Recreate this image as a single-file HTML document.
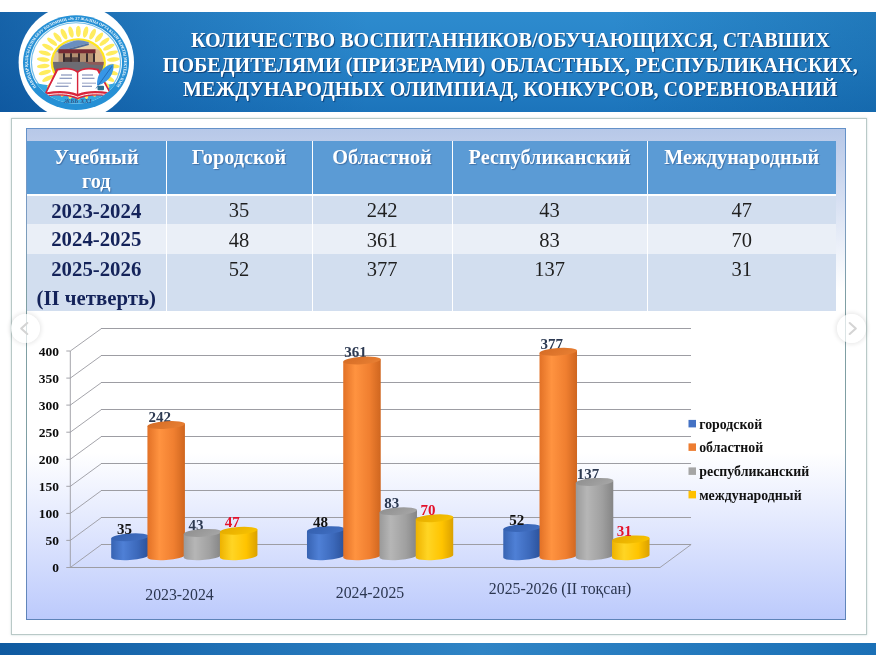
<!DOCTYPE html>
<html lang="ru">
<head>
<meta charset="utf-8">
<title>Количество воспитанников/обучающихся</title>
<style>
html,body{margin:0;padding:0;}
body{width:876px;height:655px;position:relative;overflow:hidden;background:#fff;font-family:"Liberation Serif","DejaVu Serif",serif;}
.abs{position:absolute;}
#banner{left:0;top:12px;width:876px;height:99.5px;
  background:
   linear-gradient(to right, rgba(4,66,138,.55) 0%, rgba(4,66,138,.25) 18%, rgba(4,66,138,0) 42%, rgba(6,74,140,0) 70%, rgba(6,80,142,.30) 100%),
   linear-gradient(to bottom, #2d8bce 0%, #2783c8 50%, #1c74bb 100%);}
#title{left:144.3px;top:28.3px;width:732px;text-align:center;color:#fff;font-weight:bold;font-size:20.09px;line-height:24.2px;
  text-shadow:1px 1px 1px rgba(0,20,60,.55);white-space:nowrap;}
#frame{left:11px;top:118px;width:853.5px;height:515px;border:1px solid #b9c9c7;background:#fff;box-shadow:0 0 2px rgba(150,180,180,.5);}
#panel{left:26px;top:128px;width:820px;height:492px;background:linear-gradient(to bottom,#6391c9 0%,#7b9cc2 18%,#7f9fa3 35%,#7f9fa3 62%,#6d8fc0 85%,#5d83b8 100%);}
#panel i{position:absolute;left:1px;top:1px;right:1px;bottom:1px;
  background:linear-gradient(to bottom,#b7c8e8 0%,#d3ddf1 13%,#ffffff 33%,#ffffff 66%,#bccafc 100%);}
#footer{left:0;top:643.3px;width:876px;height:12px;background:linear-gradient(to right,#0f5aa0 0%,#1e6fb4 25%,#2f84c5 55%,#2479bd 80%,#1b70b6 100%);}
table{position:absolute;left:27px;top:141px;border-collapse:collapse;table-layout:fixed;width:809px;}
td,th{padding:0;text-align:center;vertical-align:top;font-size:20.5px;border-left:1.6px solid #fff;overflow:visible;}
td:first-child,th:first-child{border-left:none;}
th{background:#5b9bd5;color:#fff;font-weight:bold;font-size:20.3px;height:53.3px;border-bottom:2.4px solid #fff;text-shadow:1px 1px 1px rgba(30,60,110,.45);}
th div{height:53.3px;line-height:24px;padding-top:4.1px;box-sizing:border-box;}
tr.a td{background:#d2deef;}
tr.b td{background:#eaeff7;}
td{color:#1f1f1f;}
td div{overflow:visible;white-space:nowrap;}
tr.r1 td,tr.r1 td div{height:27.6px;line-height:27.6px;}
tr.r2 td,tr.r2 td div{height:30.1px;line-height:30.2px;}
tr.r3 td,tr.r3 td div{height:57px;line-height:29.6px;}
td.y{font-weight:bold;color:#14235a;font-size:20.8px;}
td div{position:relative;top:1.2px;}
td.y div{top:0.5px;}
tr.r3 td.y div{top:-0.1px;}
tr.r3 td div{top:0.6px;}
.soft{filter:blur(0.55px);}
.nav{width:29px;height:29px;border-radius:50%;background:rgba(255,255,255,.72);box-shadow:0 0 4px 1.5px rgba(0,0,0,.09);}
</style>
</head>
<body>
<div id="banner" class="abs"></div>
<div id="title" class="abs soft">КОЛИЧЕСТВО ВОСПИТАННИКОВ/ОБУЧАЮЩИХСЯ, СТАВШИХ<br>ПОБЕДИТЕЛЯМИ (ПРИЗЕРАМИ) ОБЛАСТНЫХ, РЕСПУБЛИКАНСКИХ,<br>МЕЖДУНАРОДНЫХ ОЛИМПИАД, КОНКУРСОВ, СОРЕВНОВАНИЙ</div>
<!--LOGO_START-->
<svg class="abs soft" style="left:0;top:0" width="160" height="125" viewBox="0 0 160 125" font-family="'Liberation Serif','DejaVu Serif',serif">
<defs>
<clipPath id="lgPhoto"><circle cx="2.3" cy="0.2" r="25.3"/></clipPath>
<clipPath id="lgInner"><circle cx="0" cy="0" r="46"/></clipPath>
<path id="lgRing" d="M-38.9,28.3 A48.1,48.1 0 1 1 38.9,28.3"/>
<linearGradient id="lgSky" x1="0" y1="0" x2="0" y2="1"><stop offset="0" stop-color="#7fa9d8"/><stop offset="1" stop-color="#dfe9f2"/></linearGradient>
</defs>
<circle cx="76.3" cy="62.3" r="57.7" fill="#ffffff"/>
<g transform="translate(76 62.6) scale(1 0.892)">
<circle r="53" fill="#2690d5"/>
<circle r="46" fill="#ffffff"/>
<circle r="44.6" fill="none" stroke="#6fbdea" stroke-width="1.2"/>
<text font-size="4.4" font-weight="bold" fill="#ffffff"><textPath href="#lgRing" startOffset="1" textLength="208" lengthAdjust="spacingAndGlyphs">ПАВЛОДАР ҚАЛАСЫ БІЛІМ БЕРУ БӨЛІМІНІҢ «№ 27 ЖАЛПЫ ОРТА БІЛІМ БЕРЕТІН МЕКТЕБІ» КММ</textPath></text>
<g clip-path="url(#lgInner)">
<path d="M-46,21 C-30,29 30,29 46,21 L46,50 L-46,50Z" fill="#36a7e1"/>
<g transform="translate(2.3 0.2)" fill="#ffec5e"><ellipse cx="0" cy="-35.2" rx="2.4" ry="6.4" transform="rotate(0.0)"/><ellipse cx="0" cy="-35.2" rx="2.4" ry="6.4" transform="rotate(12.0)"/><ellipse cx="0" cy="-35.2" rx="2.4" ry="6.4" transform="rotate(24.0)"/><ellipse cx="0" cy="-35.2" rx="2.4" ry="6.4" transform="rotate(36.0)"/><ellipse cx="0" cy="-35.2" rx="2.4" ry="6.4" transform="rotate(48.0)"/><ellipse cx="0" cy="-35.2" rx="2.4" ry="6.4" transform="rotate(60.0)"/><ellipse cx="0" cy="-35.2" rx="2.4" ry="6.4" transform="rotate(72.0)"/><ellipse cx="0" cy="-35.2" rx="2.4" ry="6.4" transform="rotate(84.0)"/><ellipse cx="0" cy="-35.2" rx="2.4" ry="6.4" transform="rotate(96.0)"/><ellipse cx="0" cy="-35.2" rx="2.4" ry="6.4" transform="rotate(108.0)"/><ellipse cx="0" cy="-35.2" rx="2.4" ry="6.4" transform="rotate(120.0)"/><ellipse cx="0" cy="-35.2" rx="2.4" ry="6.4" transform="rotate(132.0)"/><ellipse cx="0" cy="-35.2" rx="2.4" ry="6.4" transform="rotate(144.0)"/><ellipse cx="0" cy="-35.2" rx="2.4" ry="6.4" transform="rotate(156.0)"/><ellipse cx="0" cy="-35.2" rx="2.4" ry="6.4" transform="rotate(168.0)"/><ellipse cx="0" cy="-35.2" rx="2.4" ry="6.4" transform="rotate(180.0)"/><ellipse cx="0" cy="-35.2" rx="2.4" ry="6.4" transform="rotate(192.0)"/><ellipse cx="0" cy="-35.2" rx="2.4" ry="6.4" transform="rotate(204.0)"/><ellipse cx="0" cy="-35.2" rx="2.4" ry="6.4" transform="rotate(216.0)"/><ellipse cx="0" cy="-35.2" rx="2.4" ry="6.4" transform="rotate(228.0)"/><ellipse cx="0" cy="-35.2" rx="2.4" ry="6.4" transform="rotate(240.0)"/><ellipse cx="0" cy="-35.2" rx="2.4" ry="6.4" transform="rotate(252.0)"/><ellipse cx="0" cy="-35.2" rx="2.4" ry="6.4" transform="rotate(264.0)"/><ellipse cx="0" cy="-35.2" rx="2.4" ry="6.4" transform="rotate(276.0)"/><ellipse cx="0" cy="-35.2" rx="2.4" ry="6.4" transform="rotate(288.0)"/><ellipse cx="0" cy="-35.2" rx="2.4" ry="6.4" transform="rotate(300.0)"/><ellipse cx="0" cy="-35.2" rx="2.4" ry="6.4" transform="rotate(312.0)"/><ellipse cx="0" cy="-35.2" rx="2.4" ry="6.4" transform="rotate(324.0)"/><ellipse cx="0" cy="-35.2" rx="2.4" ry="6.4" transform="rotate(336.0)"/><ellipse cx="0" cy="-35.2" rx="2.4" ry="6.4" transform="rotate(348.0)"/><circle r="27.6" fill="#ffe61f"/></g>
<g clip-path="url(#lgPhoto)">
<rect x="-24" y="-26" width="52" height="30" fill="#ead4a8"/>
<path d="M-24,-8 L-24,-26 L16,-26 L12.5,-21.6 L-21,-11.5Z" fill="#6a8ebf"/>
<path d="M-24,-26 L2,-26 L-24,-15Z" fill="#c9dcef"/>
<path d="M-21,-11.5 L12.5,-21.6 L13,-19.8 L-20,-9.6Z" fill="#4f6f9c"/>
<rect x="-18" y="-10.8" width="38" height="10.4" fill="#b28e70"/>
<rect x="19" y="-15" width="10" height="15" fill="#dfb990"/>
<rect x="-24" y="-12" width="6.5" height="12" fill="#d9c3a2"/>
<path d="M-17.5,-14.9 L19.5,-14.9 L19.5,-10.6 L-17.5,-10.6Z" fill="#782a33"/>
<path d="M-13,-10.6 h2 v10 h-2z M-6,-10.6 h2 v10 h-2z M2,-10.6 h2 v10 h-2z M10,-10.6 h2 v10 h-2z M17,-10.6 h2 v10 h-2z" fill="#3b2b2e"/>
<rect x="-11" y="-6" width="5" height="5.5" fill="#4d3a3a"/><rect x="-4" y="-6" width="6" height="5.5" fill="#5b4642"/>
<rect x="-26" y="-0.8" width="56" height="12" fill="#6d6c73"/>
<path d="M8,-0.8 L28,-0.8 L28,3 L14,2.2Z" fill="#8e5a58"/>
</g>
<path d="M-33,38.5 L-19.5,7 C-10,4.5 -3,5.5 1.6,9.5 C6,5.5 13,4.5 22.5,7 L37,38.5 C22,35.5 10,36.5 1.6,41 C-7,36.5 -19,35.5 -33,38.5Z" fill="#d8243a"/>
<path d="M-29,33.2 L-18,8.8 C-9,6.8 -3,7.8 0.9,11.3 L0.9,35 C-7,31.4 -18.5,31.2 -29,33.2Z" fill="#ffffff"/>
<path d="M33,33.2 L21,8.8 C12,6.8 6,7.8 2.3,11.3 L2.3,35 C10,31.4 21.5,31.2 33,33.2Z" fill="#ffffff"/>
<path d="M-30.8,36.6 C-19,33.9 -7,34.4 1.6,38.7 C10,34.4 22,33.9 34.8,36.6" fill="none" stroke="#ffffff" stroke-width="1"/>
<g stroke="#4a5f9a" stroke-width="1.1" fill="none" opacity="0.8"><path d="M-15,14 h11 M-16.5,17.5 h12.5 M-19,23 h14 M-20.5,26.5 h13"/><path d="M6,14 h11 M6,17.5 h12.5 M6,23 h14 M6,26.5 h10"/></g>
<path d="M37.5,1.5 C27,3 20.5,13 21,25.5 C30,24 38.5,14 37.5,1.5Z" fill="#3796e6"/>
<path d="M36,4 L20,29" stroke="#1d5fa8" stroke-width="0.8" fill="none"/>
<rect x="21.5" y="26" width="6.5" height="5" rx="1" fill="#2a6f8f"/>
</g>
<text x="1.8" y="45.6" text-anchor="middle" font-size="6.6" font-style="italic" font-weight="bold" fill="#355a8e">ЖББ XXI</text>
</g>
</svg>
<!--LOGO_END-->
<div id="frame" class="abs"></div>
<div id="panel" class="abs"><i></i></div>
<table class="soft">
<colgroup><col style="width:139px"><col style="width:146px"><col style="width:140px"><col style="width:195px"><col style="width:189px"></colgroup>
<tr><th><div>Учебный<br>год</div></th><th><div>Городской</div></th><th><div>Областной</div></th><th><div>Республиканский</div></th><th><div>Международный</div></th></tr>
<tr class="a r1"><td class="y"><div>2023-2024</div></td><td><div>35</div></td><td><div>242</div></td><td><div>43</div></td><td><div>47</div></td></tr>
<tr class="b r2"><td class="y"><div>2024-2025</div></td><td><div>48</div></td><td><div>361</div></td><td><div>83</div></td><td><div>70</div></td></tr>
<tr class="a r3"><td class="y"><div>2025-2026<br>(II четверть)</div></td><td><div>52</div></td><td><div>377</div></td><td><div>137</div></td><td><div>31</div></td></tr>
</table>
<!--CHART_START-->
<svg class="abs soft" style="left:0;top:0" width="876" height="655" viewBox="0 0 876 655" font-family="'Liberation Serif','DejaVu Serif',serif">
<defs>
<linearGradient id="gbb" x1="0" y1="0" x2="1" y2="0"><stop offset="0" stop-color="#3763b2"/><stop offset="0.32" stop-color="#4f80d6"/><stop offset="0.7" stop-color="#3c69bb"/><stop offset="1" stop-color="#2b519a"/></linearGradient>
<linearGradient id="gtb" x1="0" y1="0" x2="1" y2="0.4"><stop offset="0" stop-color="#335fae"/><stop offset="1" stop-color="#3f6dc0"/></linearGradient>
<linearGradient id="gbo" x1="0" y1="0" x2="1" y2="0"><stop offset="0" stop-color="#e27126"/><stop offset="0.32" stop-color="#ff9340"/><stop offset="0.7" stop-color="#f07f30"/><stop offset="1" stop-color="#cf661f"/></linearGradient>
<linearGradient id="gto" x1="0" y1="0" x2="1" y2="0.4"><stop offset="0" stop-color="#d46b24"/><stop offset="1" stop-color="#e67d31"/></linearGradient>
<linearGradient id="gbg" x1="0" y1="0" x2="1" y2="0"><stop offset="0" stop-color="#9a9a9a"/><stop offset="0.3" stop-color="#b6b6b6"/><stop offset="0.7" stop-color="#a0a0a0"/><stop offset="1" stop-color="#858585"/></linearGradient>
<linearGradient id="gtg" x1="0" y1="0" x2="1" y2="0.4"><stop offset="0" stop-color="#8e8e8e"/><stop offset="1" stop-color="#a4a4a4"/></linearGradient>
<linearGradient id="gby" x1="0" y1="0" x2="1" y2="0"><stop offset="0" stop-color="#eeb200"/><stop offset="0.32" stop-color="#ffd524"/><stop offset="0.7" stop-color="#ffc400"/><stop offset="1" stop-color="#dba100"/></linearGradient>
<linearGradient id="gty" x1="0" y1="0" x2="1" y2="0.4"><stop offset="0" stop-color="#e2a900"/><stop offset="1" stop-color="#f6c000"/></linearGradient>
</defs>
<path d="M101.2 544.5H691.2M101.2 517.5H691.2M101.2 490.5H691.2M101.2 463.5H691.2M101.2 436.5H691.2M101.2 409.5H691.2M101.2 382.5H691.2M101.2 355.5H691.2M101.2 328.5H691.2" fill="none" stroke="#9d9da3" stroke-width="1" shape-rendering="crispEdges"/>
<path d="M70.3 567.5L101.5 544.5M70.3 540.4L101.5 517.5M70.3 513.4L101.5 490.5M70.3 486.3L101.5 463.5M70.3 459.3L101.5 436.5M70.3 432.2L101.5 409.5M70.3 405.1L101.5 382.5M70.3 378.1L101.5 355.5M70.3 351.0L101.5 328.5" fill="none" stroke="#9a9aa0" stroke-width="0.9"/>
<path d="M70.3 351.0V567.5M660.0 567.5L691.2 544.5M66.3 567.5h4M66.3 540.4h4M66.3 513.4h4M66.3 486.3h4M66.3 459.3h4M66.3 432.2h4M66.3 405.1h4M66.3 378.1h4M66.3 351.0h4" fill="none" stroke="#9a9aa0" stroke-width="0.9"/>
<path d="M70.3 567.5H660.0" fill="none" stroke="#9d9da3" stroke-width="1" shape-rendering="crispEdges"/>
<text x="59" y="572.1" text-anchor="end" font-size="13.5" font-weight="bold" fill="#0c0c0c">0</text>
<text x="59" y="545.0" text-anchor="end" font-size="13.5" font-weight="bold" fill="#0c0c0c">50</text>
<text x="59" y="518.0" text-anchor="end" font-size="13.5" font-weight="bold" fill="#0c0c0c">100</text>
<text x="59" y="490.9" text-anchor="end" font-size="13.5" font-weight="bold" fill="#0c0c0c">150</text>
<text x="59" y="463.9" text-anchor="end" font-size="13.5" font-weight="bold" fill="#0c0c0c">200</text>
<text x="59" y="436.8" text-anchor="end" font-size="13.5" font-weight="bold" fill="#0c0c0c">250</text>
<text x="59" y="409.7" text-anchor="end" font-size="13.5" font-weight="bold" fill="#0c0c0c">300</text>
<text x="59" y="382.7" text-anchor="end" font-size="13.5" font-weight="bold" fill="#0c0c0c">350</text>
<text x="59" y="355.6" text-anchor="end" font-size="13.5" font-weight="bold" fill="#0c0c0c">400</text>
<text x="159.7" y="421.7" text-anchor="middle" font-size="15" font-weight="bold" fill="#2d3a52">242</text>
<text x="195.9" y="529.6" text-anchor="middle" font-size="15" font-weight="bold" fill="#2d3a52">43</text>
<text x="355.5" y="357.2" text-anchor="middle" font-size="15" font-weight="bold" fill="#2d3a52">361</text>
<text x="391.7" y="507.9" text-anchor="middle" font-size="15" font-weight="bold" fill="#2d3a52">83</text>
<text x="551.8" y="348.5" text-anchor="middle" font-size="15" font-weight="bold" fill="#2d3a52">377</text>
<text x="588.0" y="478.6" text-anchor="middle" font-size="15" font-weight="bold" fill="#2d3a52">137</text>
<path d="M111.18 538.42L111.18 557.39A18.79 3.81 -3.80 0 0 148.68 555.01L148.68 536.03Z" fill="url(#gbb)"/>
<ellipse cx="129.93" cy="537.22" rx="18.79" ry="3.81" transform="rotate(-3.80 129.93 537.22)" fill="url(#gtb)"/>
<path d="M147.43 426.18L147.43 557.39A18.79 3.81 -3.80 0 0 184.93 555.01L184.93 423.79Z" fill="url(#gbo)"/>
<ellipse cx="166.18" cy="424.99" rx="18.79" ry="3.81" transform="rotate(-3.80 166.18 424.99)" fill="url(#gto)"/>
<path d="M183.68 534.08L183.68 557.39A18.79 3.81 -3.80 0 0 221.18 555.01L221.18 531.69Z" fill="url(#gbg)"/>
<ellipse cx="202.43" cy="532.89" rx="18.79" ry="3.81" transform="rotate(-3.80 202.43 532.89)" fill="url(#gtg)"/>
<path d="M219.93 531.91L219.93 557.39A18.79 3.81 -3.80 0 0 257.43 555.01L257.43 529.52Z" fill="url(#gby)"/>
<ellipse cx="238.68" cy="530.72" rx="18.79" ry="3.81" transform="rotate(-3.80 238.68 530.72)" fill="url(#gty)"/>
<text x="179.5" y="600" text-anchor="middle" font-size="15.8" fill="#2b3650">2023-2024</text>
<path d="M306.98 531.37L306.98 557.39A18.79 3.81 -3.80 0 0 344.48 555.01L344.48 528.98Z" fill="url(#gbb)"/>
<ellipse cx="325.73" cy="530.17" rx="18.79" ry="3.81" transform="rotate(-3.80 325.73 530.17)" fill="url(#gtb)"/>
<path d="M343.23 361.66L343.23 557.39A18.79 3.81 -3.80 0 0 380.73 555.01L380.73 359.27Z" fill="url(#gbo)"/>
<ellipse cx="361.98" cy="360.47" rx="18.79" ry="3.81" transform="rotate(-3.80 361.98 360.47)" fill="url(#gto)"/>
<path d="M379.48 512.39L379.48 557.39A18.79 3.81 -3.80 0 0 416.98 555.01L416.98 510.00Z" fill="url(#gbg)"/>
<ellipse cx="398.23" cy="511.20" rx="18.79" ry="3.81" transform="rotate(-3.80 398.23 511.20)" fill="url(#gtg)"/>
<path d="M415.73 519.44L415.73 557.39A18.79 3.81 -3.80 0 0 453.23 555.01L453.23 517.05Z" fill="url(#gby)"/>
<ellipse cx="434.48" cy="518.25" rx="18.79" ry="3.81" transform="rotate(-3.80 434.48 518.25)" fill="url(#gty)"/>
<text x="370" y="597.5" text-anchor="middle" font-size="15.8" fill="#2b3650">2024-2025</text>
<path d="M503.27 529.20L503.27 557.39A18.79 3.81 -3.80 0 0 540.77 555.01L540.77 526.81Z" fill="url(#gbb)"/>
<ellipse cx="522.02" cy="528.01" rx="18.79" ry="3.81" transform="rotate(-3.80 522.02 528.01)" fill="url(#gtb)"/>
<path d="M539.52 352.99L539.52 557.39A18.79 3.81 -3.80 0 0 577.02 555.01L577.02 350.60Z" fill="url(#gbo)"/>
<ellipse cx="558.27" cy="351.79" rx="18.79" ry="3.81" transform="rotate(-3.80 558.27 351.79)" fill="url(#gto)"/>
<path d="M575.77 483.11L575.77 557.39A18.79 3.81 -3.80 0 0 613.27 555.01L613.27 480.72Z" fill="url(#gbg)"/>
<ellipse cx="594.52" cy="481.92" rx="18.79" ry="3.81" transform="rotate(-3.80 594.52 481.92)" fill="url(#gtg)"/>
<path d="M612.02 540.59L612.02 557.39A18.79 3.81 -3.80 0 0 649.52 555.01L649.52 538.20Z" fill="url(#gby)"/>
<ellipse cx="630.77" cy="539.39" rx="18.79" ry="3.81" transform="rotate(-3.80 630.77 539.39)" fill="url(#gty)"/>
<text x="560" y="594" text-anchor="middle" font-size="15.8" fill="#2b3650">2025-2026 (II тоқсан)</text>
<text x="124.6" y="533.9" text-anchor="middle" font-size="15" font-weight="bold" fill="#111111">35</text>
<text x="232.2" y="527.4" text-anchor="middle" font-size="15" font-weight="bold" fill="#e3122b">47</text>
<text x="320.4" y="526.9" text-anchor="middle" font-size="15" font-weight="bold" fill="#111111">48</text>
<text x="428.0" y="514.9" text-anchor="middle" font-size="15" font-weight="bold" fill="#e3122b">70</text>
<text x="516.7" y="524.7" text-anchor="middle" font-size="15" font-weight="bold" fill="#111111">52</text>
<text x="624.3" y="536.1" text-anchor="middle" font-size="15" font-weight="bold" fill="#e3122b">31</text>
<rect x="688.5" y="419.9" width="7.5" height="7.5" fill="#4472c4"/>
<text x="699.2" y="428.5" font-size="13.85" font-weight="bold" fill="#101010">городской</text>
<rect x="688.5" y="443.4" width="7.5" height="7.5" fill="#ed7d31"/>
<text x="699.2" y="452" font-size="13.85" font-weight="bold" fill="#101010">областной</text>
<rect x="688.5" y="467.4" width="7.5" height="7.5" fill="#a5a5a5"/>
<text x="699.2" y="476" font-size="13.85" font-weight="bold" fill="#101010">республиканский</text>
<rect x="688.5" y="490.9" width="7.5" height="7.5" fill="#ffc000"/>
<text x="699.2" y="499.5" font-size="13.85" font-weight="bold" fill="#101010">международный</text>
</svg>
<!--CHART_END-->
<div id="footer" class="abs"></div>
<div class="abs nav" style="left:10.5px;top:313.5px"><svg width="29" height="29" viewBox="0 0 29 29"><path d="M16.3 9L10.2 14.5L16.3 20" fill="none" stroke="#d4d4d4" stroke-width="2.1" stroke-linecap="round" stroke-linejoin="round"/></svg></div>
<div class="abs nav" style="left:837px;top:314px"><svg width="29" height="29" viewBox="0 0 29 29"><path d="M12.7 9L18.8 14.5L12.7 20" fill="none" stroke="#d4d4d4" stroke-width="2.1" stroke-linecap="round" stroke-linejoin="round"/></svg></div>
</body>
</html>
